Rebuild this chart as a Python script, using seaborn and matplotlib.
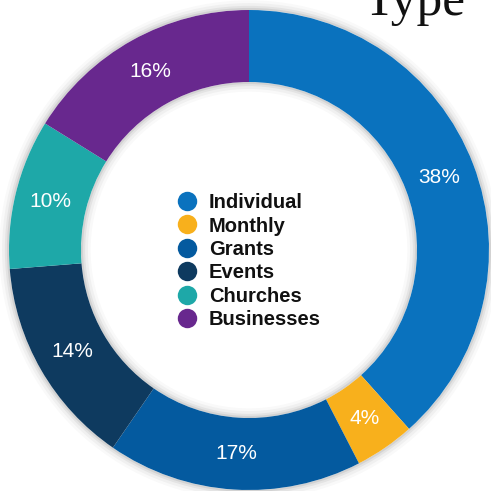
import matplotlib
matplotlib.use("Agg")
import matplotlib.pyplot as plt
import matplotlib.patheffects as pe
from matplotlib.lines import Line2D
import seaborn as sns

categories = ["Individual", "Monthly", "Grants", "Events", "Churches", "Businesses"]
values = [38, 4, 17, 14, 10, 16]
colors = ["#0A72BE", "#F8B01C", "#045A9F", "#0E3A5F", "#1EA8A8", "#68288E"]
title_text = "Type"

sns.set_theme(style="white")
plt.rcParams["font.family"] = ["Liberation Sans", "DejaVu Sans"]

fig = plt.figure(figsize=(4.91, 4.91), dpi=100)
ax = fig.add_axes([0, 0, 1, 1])
R = 240.0
cx, cy = 249.0, 250.0
W, H = 491.0, 491.0
ax.axis("off")

# soft shadow ring
shadow = ax.pie([1], radius=1.0, colors=["white"], startangle=90,
                wedgeprops=dict(width=0.3, linewidth=0))[0][0]
shadow.set_path_effects([
    pe.Stroke(linewidth=14, foreground="black", alpha=0.025),
    pe.Stroke(linewidth=10, foreground="black", alpha=0.035),
    pe.Stroke(linewidth=6, foreground="black", alpha=0.05),
    pe.Stroke(linewidth=3, foreground="black", alpha=0.07),
    pe.Normal(),
])

total = sum(values)
wedges, texts, autotexts = ax.pie(
    values, radius=1.0, colors=colors, startangle=90, counterclock=False,
    wedgeprops=dict(width=0.3, linewidth=0),
    autopct=lambda p: f"{round(p * total / 100)}%", pctdistance=0.85,
    textprops=dict(color="white", fontsize=15),
)
ax.set_xlim(-cx / R, (W - cx) / R)
ax.set_ylim(-(H - cy) / R, cy / R)

handles = [Line2D([0], [0], marker="o", linestyle="", markersize=14,
                  markerfacecolor=c, markeredgewidth=0) for c in colors]
leg = fig.legend(handles, categories, loc="upper left",
                 bbox_to_anchor=(167 / W, 1 - 183 / H), frameon=False,
                 borderpad=0, handlelength=1.0, handletextpad=0.58,
                 labelspacing=0.22,
                 prop=dict(family="Liberation Sans", weight="bold", size=14.5))
for t in leg.get_texts():
    t.set_color("#111111")

fig.text(363 / W, 1 - 15 / H, title_text, fontsize=37, family="Liberation Serif",
         va="baseline", ha="left", color="#111111")

fig.savefig("out.png", dpi=100)
